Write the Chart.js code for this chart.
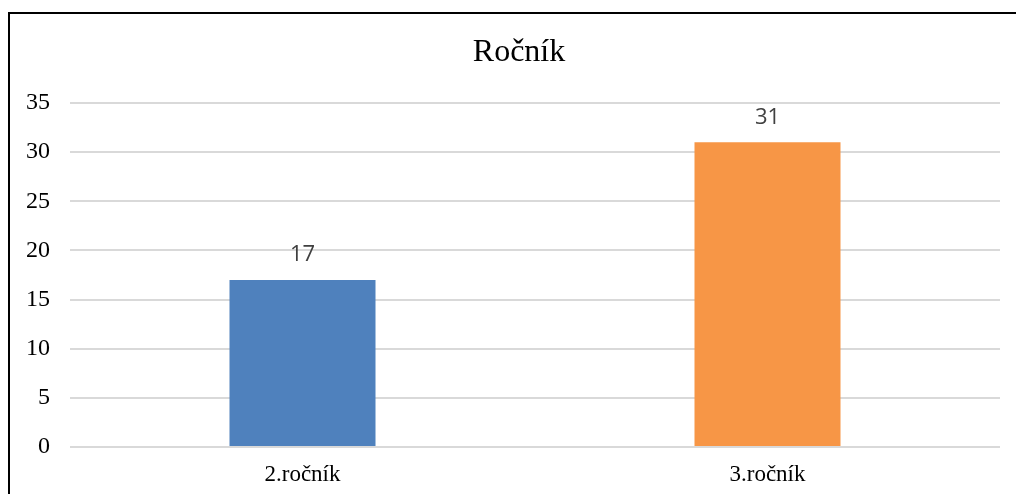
<!DOCTYPE html>
<html>
<head>
<meta charset="utf-8">
<script src="https://cdn.jsdelivr.net/npm/chart.js@4"></script>
<style>
  html, body { margin: 0; padding: 0; background: #fff; }
  #wrap { position: relative; width: 1016px; height: 494px; }
</style>
</head>
<body>
<div id="wrap"><canvas id="c" width="1016" height="494"></canvas></div>
<script>
const chartTitle = 'Ročník';
const categories = ['2.ročník', '3.ročník'];
const counts = [17, 31];
const barColors = ['#4F81BD', '#F79646'];
const yTicks = [0, 5, 10, 15, 20, 25, 30, 35];

// frame around the chart, partly cut by the page edge, plus the heading
const framePlugin = {
  id: 'frame',
  beforeDraw(chart) {
    const ctx = chart.ctx;
    ctx.save();
    ctx.strokeStyle = '#000';
    ctx.lineWidth = 2;
    ctx.beginPath();
    ctx.moveTo(9, 520);
    ctx.lineTo(9, 13);
    ctx.lineTo(1030, 13);
    ctx.stroke();

    ctx.font = '32px "Liberation Serif"';
    ctx.fillStyle = '#000';
    ctx.textAlign = 'center';
    ctx.textBaseline = 'middle';
    ctx.fillText(chartTitle, 519, 53);
    ctx.restore();
  }
};

// value printed above each bar
const valueLabels = {
  id: 'valueLabels',
  afterDatasetsDraw(chart) {
    const ctx = chart.ctx;
    const meta = chart.getDatasetMeta(0);
    ctx.save();
    ctx.font = '22px "Open Sans"';
    ctx.fillStyle = '#404040';
    ctx.textAlign = 'center';
    ctx.textBaseline = 'middle';
    meta.data.forEach((bar, i) => {
      ctx.fillText(String(counts[i]), bar.x, bar.y - 25);
    });
    ctx.restore();
  }
};

new Chart(document.getElementById('c'), {
  type: 'bar',
  data: {
    labels: categories,
    datasets: [{
      data: counts,
      backgroundColor: barColors,
      borderWidth: 0,
      categoryPercentage: 1,
      barPercentage: 0.314
    }]
  },
  options: {
    responsive: false,
    animation: false,
    layout: { padding: { left: 0, right: 16, top: 103, bottom: 0 } },
    plugins: {
      legend: { display: false },
      tooltip: { enabled: false },
      title: { display: false }
    },
    scales: {
      x: {
        grid: { display: false, drawTicks: false },
        border: { display: false },
        ticks: {
          color: '#000',
          padding: 14,
          font: { family: '"Liberation Serif"', size: 23 }
        },
        afterFit(scale) { scale.height = 47; }
      },
      y: {
        min: 0,
        max: 35,
        afterBuildTicks(scale) { scale.ticks = yTicks.map(v => ({ value: v })); },
        grid: { color: '#d9d9d9', lineWidth: 2, drawTicks: false },
        border: { display: false },
        ticks: {
          color: '#000',
          padding: 20,
          font: { family: '"Liberation Serif"', size: 24 }
        },
        afterFit(scale) { scale.width = 70; }
      }
    }
  },
  plugins: [framePlugin, valueLabels]
});
</script>
</body>
</html>
